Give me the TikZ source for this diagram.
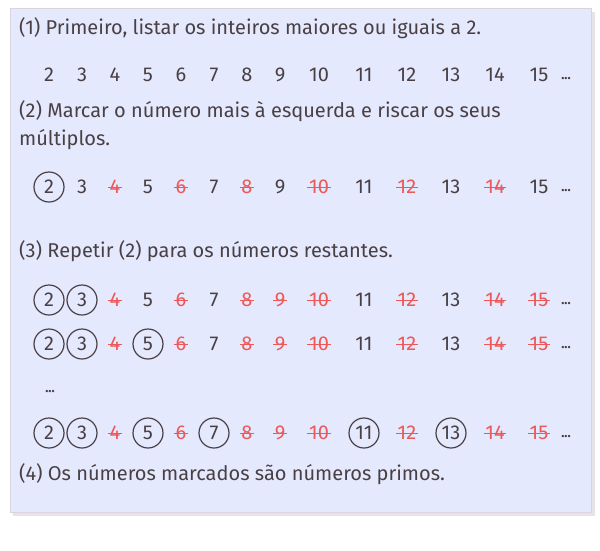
\documentclass[tikz,border=0pt]{standalone}
\usepackage{fontspec}
\setmainfont{Fira Sans}
\definecolor{txt}{HTML}{4A4044}
\definecolor{rd}{HTML}{EE5858}
\definecolor{bg}{HTML}{E4E9FD}
\definecolor{bd}{HTML}{DCD2DC}
\definecolor{shd}{HTML}{D8D0D8}
\tikzset{
  lbl/.style={anchor=base west, text=txt, font=\fontsize{20}{22}\selectfont, inner sep=0},
  numplain/.style={text=txt, font=\fontsize{20}{22}\selectfont, inner sep=0},
  numcirc/.style={numplain, circle, draw=txt, line width=1.2pt, minimum size=30pt},
  numstrk/.style={text=rd, font=\fontsize{20}{22}\selectfont, inner xsep=1.5pt, inner ysep=0,
    append after command={(\tikzlastnode.west) edge[draw=rd, line width=1pt] (\tikzlastnode.east)}},
  dots/.style={text=txt, font=\fontsize{13}{13}\bfseries\selectfont, inner sep=0}
}
\begin{document}
\begin{tikzpicture}[x=1pt,y=-1pt]
\useasboundingbox (0,0) rectangle (600,550);
\fill[shd,opacity=0.6] (13,12) rectangle (595,516);
\fill[bg] (10,8) rectangle (591,512);
\draw[bd,line width=1pt] (10,8) rectangle (591,512);
\node[lbl] (t1) at (19,34) {(1) Primeiro, listar os inteiros maiores ou iguais a 2.};
\node[lbl] (t2) at (19,117) {(2) Marcar o número mais à esquerda e riscar os seus};
\node[lbl] (t2b) at (19,145) {múltiplos.};
\node[lbl] (t3) at (19,257) {(3) Repetir (2) para os números restantes.};
\node[lbl] (t4) at (19,480) {(4) Os números marcados são números primos.};
% row 1
\foreach \x/\n/\s in {49/2/numplain,82/3/numplain,115/4/numplain,148/5/numplain,181/6/numplain,214/7/numplain,247/8/numplain,280/9/numplain,319/10/numplain,364/11/numplain,407/12/numplain,451/13/numplain,495/14/numplain,539/15/numplain}
  \node[\s] (a\n) at (\x,75) {\n};
\node[dots] (ad) at (566,79) {...};
% row 2
\foreach \x/\n/\s in {49/2/numcirc,82/3/numplain,115/4/numstrk,148/5/numplain,181/6/numstrk,214/7/numplain,247/8/numstrk,280/9/numplain,319/10/numstrk,364/11/numplain,407/12/numstrk,451/13/numplain,495/14/numstrk,539/15/numplain}
  \node[\s] (b\n) at (\x,187) {\n};
\node[dots] (bd) at (566,191) {...};
% row 3
\foreach \x/\n/\s in {49/2/numcirc,82/3/numcirc,115/4/numstrk,148/5/numplain,181/6/numstrk,214/7/numplain,247/8/numstrk,280/9/numstrk,319/10/numstrk,364/11/numplain,407/12/numstrk,451/13/numplain,495/14/numstrk,539/15/numstrk}
  \node[\s] (c\n) at (\x,300) {\n};
\node[dots] (cd) at (566,304) {...};
% row 4
\foreach \x/\n/\s in {49/2/numcirc,82/3/numcirc,115/4/numstrk,148/5/numcirc,181/6/numstrk,214/7/numplain,247/8/numstrk,280/9/numstrk,319/10/numstrk,364/11/numplain,407/12/numstrk,451/13/numplain,495/14/numstrk,539/15/numstrk}
  \node[\s] (d\n) at (\x,344) {\n};
\node[dots] (dd) at (566,348) {...};
\node[dots] (vd) at (50,392) {...};
% row 5
\foreach \x/\n/\s in {49/2/numcirc,82/3/numcirc,115/4/numstrk,148/5/numcirc,181/6/numstrk,214/7/numcirc,247/8/numstrk,280/9/numstrk,319/10/numstrk,364/11/numcirc,407/12/numstrk,451/13/numcirc,495/14/numstrk,539/15/numstrk}
  \node[\s] (e\n) at (\x,433) {\n};
\node[dots] (ed) at (566,437) {...};
\end{tikzpicture}
\end{document}
